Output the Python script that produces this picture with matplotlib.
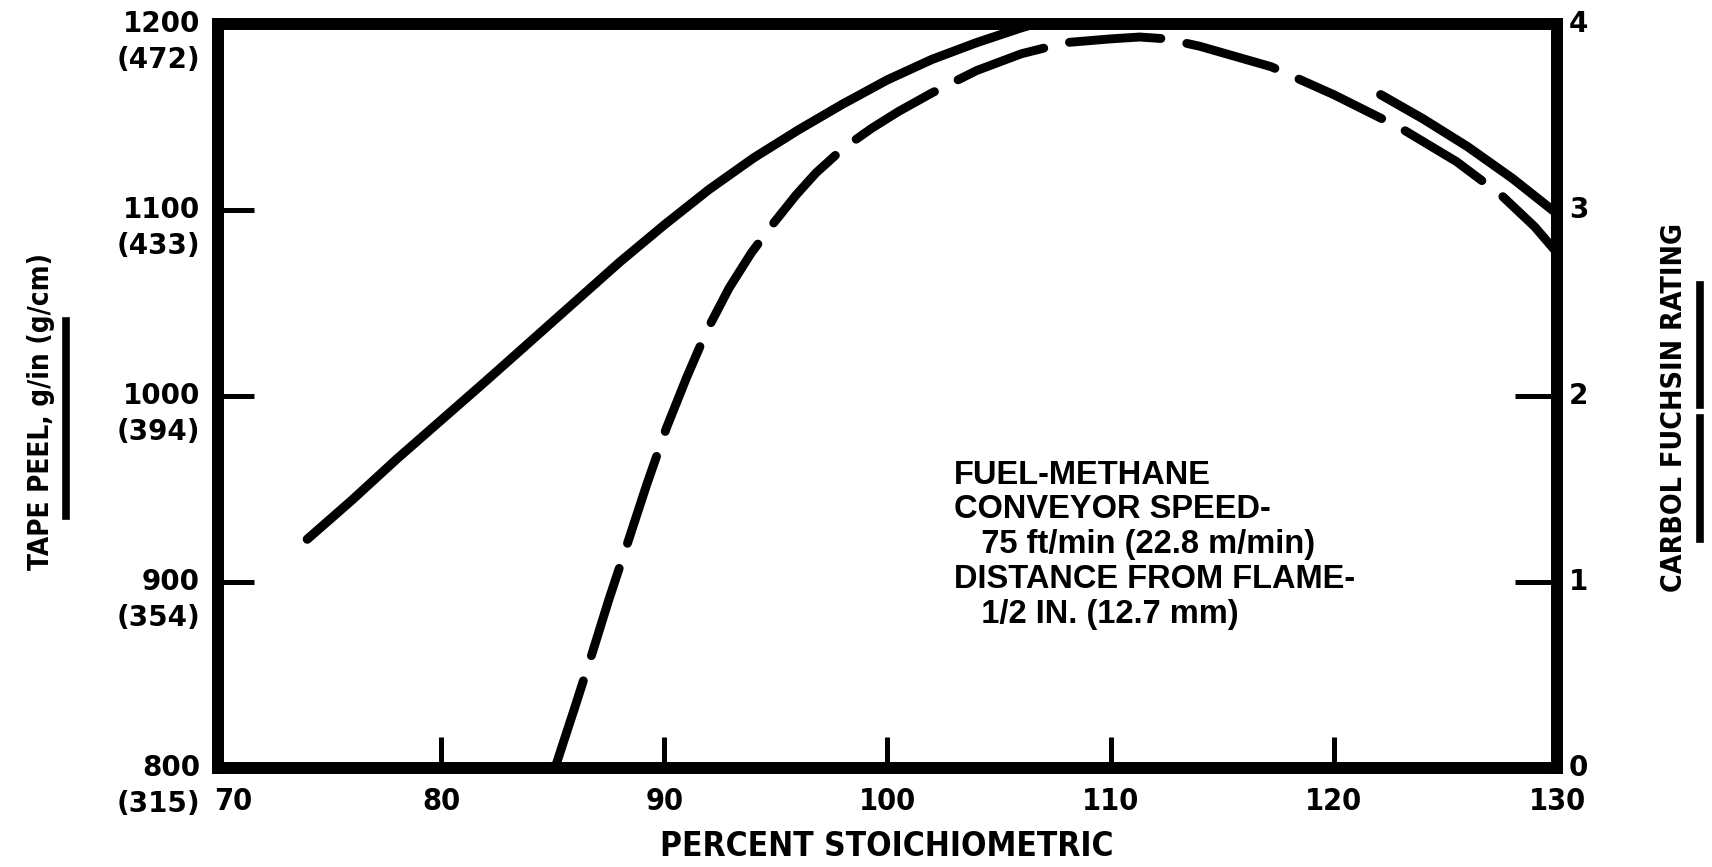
import matplotlib
matplotlib.use("Agg")
import matplotlib.pyplot as plt
from matplotlib import font_manager as fm
from matplotlib.transforms import offset_copy, blended_transform_factory
from matplotlib.lines import Line2D

# ---------------- data ----------------
x_ticks = [70, 80, 90, 100, 110, 120, 130]
left_ticks = [800, 900, 1000, 1100, 1200]
left_metric = ['(315)', '(354)', '(394)', '(433)', '(472)']
right_ticks = [0, 1, 2, 3, 4]

# tape peel (solid, left axis) - two visible pieces
peel_x1 = [74.0, 76.0, 78.0, 80.0, 82.0, 85.0, 88.0, 90.0, 92.0, 94.0, 96.0, 98.0, 100.0, 102.0, 104.0, 106.0, 108.0]
peel_y1 = [923, 944, 966, 987, 1008, 1040, 1072, 1092, 1111, 1128, 1143, 1157, 1170, 1181, 1190, 1198, 1205]
peel_x2 = [122.1, 124.0, 126.0, 128.0, 130.0]
peel_y2 = [1162, 1149, 1134, 1117, 1098]

# carbol fuchsin rating (dashed, right axis)
cf_x = [85.1, 86.0, 86.8, 87.5, 88.3, 89.2, 90.1, 91.0, 91.9, 92.9, 93.9, 94.9, 95.9, 96.8, 98.0,
        99.3, 100.5, 102.0, 104.0, 106.0, 108.0, 110.0, 111.3, 112.5, 114.0, 117.2, 120.0, 123.0,
        125.5, 127.5, 129.0, 130.0]
cf_y = [0.0, 0.33, 0.63, 0.90, 1.19, 1.52, 1.83, 2.10, 2.35, 2.58, 2.77, 2.93, 3.08, 3.20, 3.33,
        3.44, 3.53, 3.63, 3.75, 3.84, 3.90, 3.92, 3.93, 3.92, 3.88, 3.77, 3.62, 3.44,
        3.26, 3.08, 2.91, 2.77]

note_lines = ['FUEL-METHANE', 'CONVEYOR SPEED-', '   75 ft/min (22.8 m/min)',
              'DISTANCE FROM FLAME-', '   1/2 IN. (12.7 mm)']

# ---------------- fonts ----------------
names = {f.name for f in fm.fontManager.ttflist}
if any(f.name == 'DejaVu Sans' and f.stretch == 'condensed' for f in fm.fontManager.ttflist):
    cond_kw = dict(family='DejaVu Sans', fontstretch='condensed')
else:
    cond_kw = dict(family='DejaVu Sans')
main_family = 'Liberation Sans' if 'Liberation Sans' in names else 'DejaVu Sans'

plt.rcParams['lines.scale_dashes'] = False

# ---------------- figure ----------------
W, H = 1712, 867
fig = plt.figure(figsize=(W / 100, H / 100), dpi=100)
ax = fig.add_axes([218 / W, (H - 768) / H, 1339 / W, 744 / H])
ax2 = ax.twinx()

ax.set_xlim(70, 130)
ax.set_ylim(800, 1200)
ax2.set_ylim(0, 4)

for a in (ax, ax2):
    for s in a.spines.values():
        s.set_linewidth(8.5)
        s.set_capstyle('projecting')
    a.set_xticks([])
    a.set_yticks([])

# inward ticks
ax.set_xticks(x_ticks[1:-1])
ax.tick_params(axis='x', direction='in', length=22, width=3.6, labelbottom=False)
ax.set_yticks(left_ticks[1:-1])
ax.tick_params(axis='y', direction='in', length=26, width=3.6, labelleft=False)
ax2.set_yticks(right_ticks[1:3])
ax2.tick_params(axis='y', direction='in', length=30, width=3.6, labelright=False)

# curves
ax.plot(peel_x1, peel_y1, color='black', lw=6.6, solid_capstyle='round',
        solid_joinstyle='round', zorder=3)
ax.plot(peel_x2, peel_y2, color='black', lw=6.6, solid_capstyle='round',
        solid_joinstyle='round', zorder=3)
ax2.plot(cf_x, cf_y, color='black', lw=6.4, linestyle=(0, (66, 19)),
         dash_capstyle='round', dash_joinstyle='round', zorder=3)

# left tick labels (two lines)
tl = blended_transform_factory(ax.transAxes, ax.transData)
for v, m in zip(left_ticks, left_metric):
    t1 = offset_copy(tl, fig=fig, x=-18, y=0, units='dots')
    t2 = offset_copy(tl, fig=fig, x=-18, y=-36, units='dots')
    ax.text(0, v, str(v), transform=t1, ha='right', va='center', fontsize=20,
            fontweight='bold', family='DejaVu Sans')
    ax.text(0, v, m, transform=t2, ha='right', va='center', fontsize=20,
            fontweight='bold', family='DejaVu Sans')

# right tick labels
tr = blended_transform_factory(ax2.transAxes, ax2.transData)
for v in right_ticks:
    t = offset_copy(tr, fig=fig, x=12, y=0, units='dots')
    ax2.text(1, v, str(v), transform=t, ha='left', va='center', fontsize=20,
             fontweight='bold', family='DejaVu Sans')

# bottom tick labels
tb = blended_transform_factory(ax.transData, ax.transAxes)
for i, v in enumerate(x_ticks):
    t = offset_copy(tb, fig=fig, x=(-4 if i == 0 else 0), y=-33, units='dots')
    ax.text(v, 0, str(v), transform=t, ha=('left' if i == 0 else 'center'), va='center',
            fontsize=22, fontweight='bold', **cond_kw)

# axis titles
fig.text(887 / W, 1 - 846 / H, 'PERCENT STOICHIOMETRIC', ha='center', va='center',
         fontsize=24, fontweight='bold', **cond_kw)
fig.text(41 / W, 1 - 412 / H, 'TAPE PEEL, g/in (g/cm)', rotation=90, ha='center', va='center',
         fontsize=20, fontweight='bold', **cond_kw)
fig.text(1674 / W, 1 - 408 / H, 'CARBOL FUCHSIN RATING', rotation=90, ha='center', va='center',
         fontsize=20.5, fontweight='bold', **cond_kw)

# legend underlines
fig.add_artist(Line2D([66 / W, 66 / W], [1 - 516 / H, 1 - 321 / H], color='black', lw=5.5,
                      transform=fig.transFigure))
fig.add_artist(Line2D([1700 / W, 1700 / W], [1 - 405 / H, 1 - 285 / H], color='black', lw=5.5,
                      transform=fig.transFigure))
fig.add_artist(Line2D([1700 / W, 1700 / W], [1 - 539 / H, 1 - 418 / H], color='black', lw=5.5,
                      transform=fig.transFigure))

# annotation block
y0 = 1 - 475 / H
for i, line in enumerate(note_lines):
    fig.text(954 / W, y0 - i * 35 / H, line, ha='left', va='center', fontsize=23.5,
             fontweight='bold', family=main_family)

fig.savefig('out.png', dpi=100)
